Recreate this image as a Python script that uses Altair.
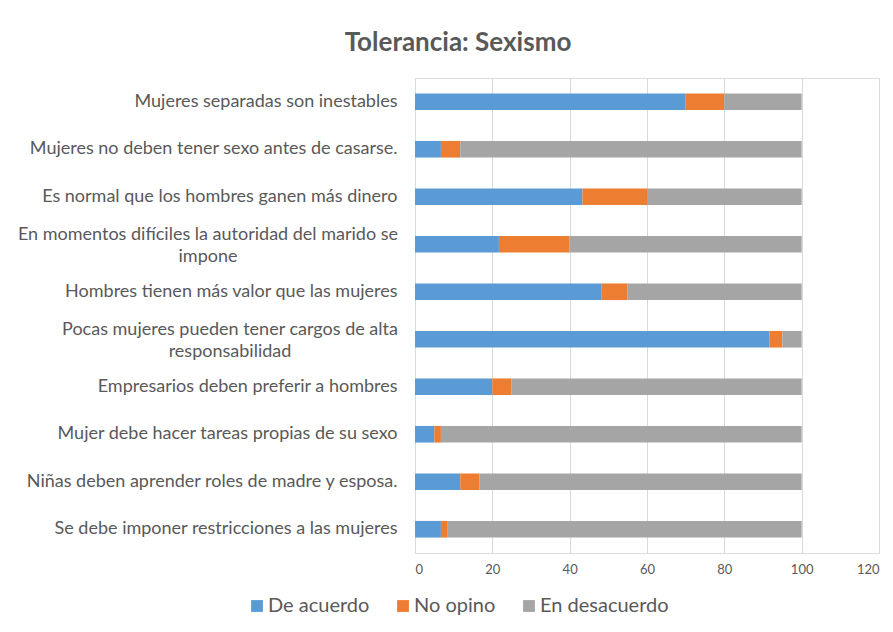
import altair as alt
import pandas as pd

categories = [
    "Mujeres separadas son inestables",
    "Mujeres no deben tener sexo antes de casarse.",
    "Es normal que los hombres ganen más dinero",
    "En momentos difíciles la autoridad del marido se impone",
    "Hombres tienen más valor que las mujeres",
    "Pocas mujeres pueden tener cargos de alta responsabilidad",
    "Empresarios deben preferir a hombres",
    "Mujer debe hacer tareas propias de su sexo",
    "Niñas deben aprender roles de madre y esposa.",
    "Se debe imponer restricciones a las mujeres",
]
de_acuerdo = [70.0, 6.7, 43.3, 21.7, 48.3, 91.7, 20.0, 5.0, 11.7, 6.7]
no_opino = [10.0, 5.0, 16.7, 18.3, 6.7, 3.3, 5.0, 1.7, 5.0, 1.6]
en_desacuerdo = [20.0, 88.3, 40.0, 60.0, 45.0, 5.0, 75.0, 93.3, 83.3, 91.7]

series = ["De acuerdo", "No opino", "En desacuerdo"]
colors = ["#5B9BD5", "#ED7D31", "#A5A5A5"]
x_ticks = [0, 20, 40, 60, 80, 100, 120]

rows = []
for i, c in enumerate(categories):
    for k, (s, vals) in enumerate(zip(series, [de_acuerdo, no_opino, en_desacuerdo])):
        rows.append({"cat": c, "serie": s, "orden": k, "valor": vals[i]})
df = pd.DataFrame(rows)

wrap4 = categories[3]
wrap6 = categories[5]
label_expr = (
    f"datum.label == '{wrap4}' ? ['En momentos difíciles la autoridad del marido se', 'impone'] : "
    f"datum.label == '{wrap6}' ? ['Pocas mujeres pueden tener cargos de alta', 'responsabilidad'] : datum.label"
)
is_wrap = f"datum.value == '{wrap4}' || datum.value == '{wrap6}'"

FONT = "Lato"
TXT = "#595959"

bars = alt.Chart(df).mark_bar().encode(
    x=alt.X(
        "valor:Q",
        stack="zero",
        scale=alt.Scale(domain=[0, 120], nice=False),
        axis=alt.Axis(
            values=x_ticks, title=None, grid=True, gridColor="#D9D9D9", domain=False,
            ticks=False, labelColor=TXT, labelFont=FONT, labelFontSize=13, labelPadding=10,
        ),
    ),
    y=alt.Y(
        "cat:N",
        sort=categories,
        scale=alt.Scale(paddingInner=0.65, paddingOuter=0.325),
        axis=alt.Axis(
            title=None, ticks=False, domain=True, domainColor="#D9D9D9",
            labelColor=TXT, labelFont=FONT, labelFontSize=18, labelLimit=0,
            labelLineHeight=22, labelExpr=label_expr,
            labelAlign={"condition": {"test": is_wrap, "value": "center"}, "value": "right"},
            labelOffset={"condition": {"test": is_wrap, "value": -9}, "value": 0},
            labelPadding={"condition": [
                {"test": f"datum.value == '{wrap4}'", "value": 207.5},
                {"test": f"datum.value == '{wrap6}'", "value": 185.5},
            ], "value": 18},
        ),
    ),
    color=alt.Color(
        "serie:N",
        scale=alt.Scale(domain=series, range=colors),
        legend=alt.Legend(
            title=None, orient="none", legendX=-168, legendY=518, direction="horizontal",
            symbolType="square", symbolSize=140, symbolStrokeWidth=0, labelFont=FONT,
            labelFontSize=20, labelColor=TXT, columnPadding=23, labelOffset=1,
        ),
    ),
    order=alt.Order("orden:Q"),
)

chart = bars.properties(
    width=464,
    height=475,
    title=alt.TitleParams(
        "Tolerancia: Sexismo", font=FONT, fontSize=26, fontWeight="bold", color=TXT,
        anchor="middle", dx=-189, offset=22,
    ),
    autosize=alt.AutoSizeParams(type="none"),
    padding={"left": 407, "top": 70, "right": 6, "bottom": 70},
).configure_view(stroke=None).configure(background="white")

chart.save("out.html", embed_options={"renderer": "svg", "actions": False})
